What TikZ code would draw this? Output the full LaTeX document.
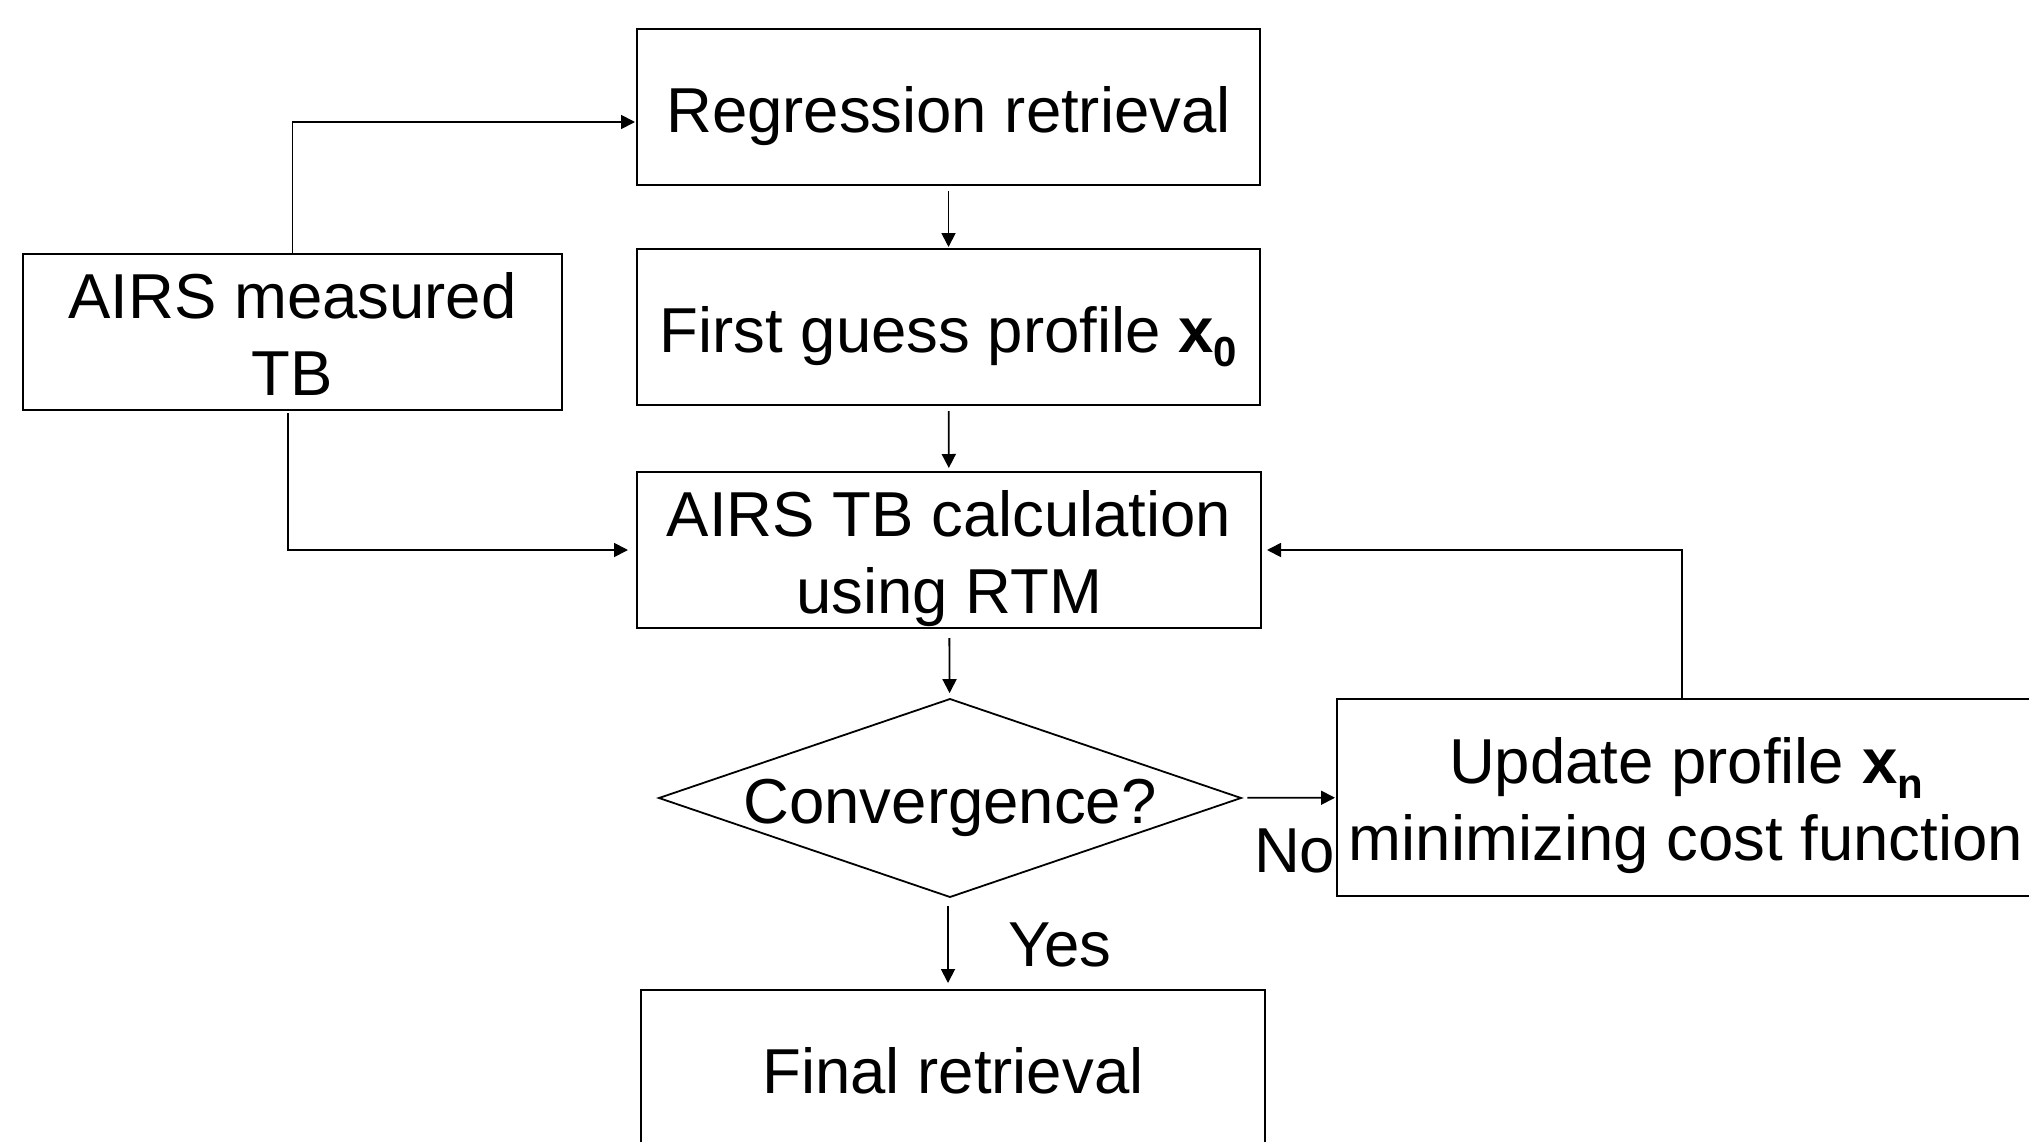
\documentclass[tikz,border=0pt]{standalone}
\usepackage{fontspec}
\setmainfont{Liberation Sans}
\usetikzlibrary{arrows.meta,shapes.geometric}
\newcommand\subx[1]{\textbf{x}\raisebox{-0.23em}{\fontsize{21pt}{21pt}\selectfont\bfseries #1}}
\begin{document}
\begin{tikzpicture}[x=0.5pt,y=-0.5pt,
  txt/.style={font=\fontsize{31.75pt}{38.4pt}\selectfont, align=center, inner sep=0pt, outer sep=0pt,
    text height=31.7pt, text depth=6.7pt},
  mtxt/.style={txt, text height=70pt, text depth=7pt},
  box/.style={txt, draw, line width=0.9pt, rectangle},
  mbox/.style={box, mtxt},
  dia/.style={draw, line width=0.9pt, diamond, aspect=2.94, inner sep=0pt, outer sep=0pt,
    minimum width=291pt, minimum height=99pt},
  arr/.style={line width=0.9pt, -{Triangle[length=7pt,width=7pt]}}]
\useasboundingbox (0,0) rectangle (2029,1141);
\fill[white] (0,0) rectangle (2029,1141);
\clip (0,0) rectangle (2029,1141);

\node[box, minimum width=311.5pt, minimum height=78pt] (reg) at (948.5,107) {Regression retrieval};
\node[box, minimum width=311.5pt, minimum height=78pt] (first) at (948.5,327) {First guess profile \subx{0}};
\node[mbox, minimum width=269.5pt, minimum height=78pt] (meas) at (292.5,332) {AIRS measured\\TB};
\node[mbox, minimum width=312pt, minimum height=78pt] (calc) at (949,550) {AIRS TB calculation\\using RTM};
\node[dia, label={[txt]center:Convergence?}] (conv) at (950,798) {};
\node[mbox, minimum width=349pt, minimum height=98.5pt] (upd) at (1686,797.5) {Update profile \subx{n}\\minimizing cost function};
\node[box, minimum width=312pt, minimum height=78pt] (final) at (953,1068) {Final retrieval};
\node[txt, anchor=base west] (no) at (1254,872) {No};
\node[txt, anchor=base west] (yes) at (1008,966) {Yes};

\draw[arr, shorten >=1pt] (meas.north) |- ([yshift=-7.5pt]reg.west);
\draw[arr, shorten <=1.5pt, shorten >=4.5pt] ([xshift=-2.25pt]meas.south) |- (calc.west);
\draw[arr, shorten <=3pt, shorten >=1pt] (reg) -- (first);
\draw[arr, shorten <=3pt, shorten >=2pt] (first) -- (calc);
\draw[arr, shorten <=5pt, shorten >=3pt] (calc) -- (conv);
\draw[arr, shorten <=4.5pt, shorten >=3.5pt] ([xshift=-1pt]conv.south) -- ([xshift=-1pt]final.north -| conv.south);
\draw[arr, shorten <=3.5pt, shorten >=1pt] (conv) -- (upd);
\draw[arr, shorten >=3pt] ([xshift=-2pt]upd.north) |- (calc.east);
\end{tikzpicture}
\end{document}
